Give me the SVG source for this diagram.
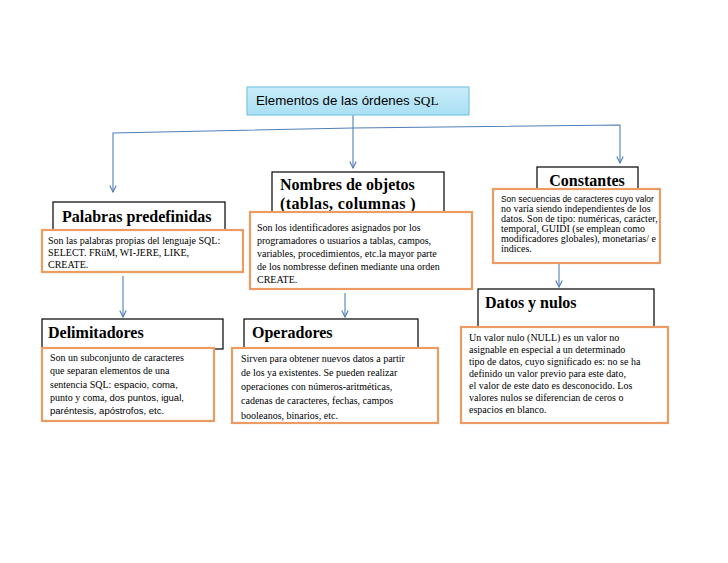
<svg xmlns="http://www.w3.org/2000/svg" width="728" height="563" viewBox="0 0 728 563">
<defs>
<linearGradient id="tg" x1="0" y1="0" x2="0" y2="1">
<stop offset="0" stop-color="#c9ecf9"/>
<stop offset="1" stop-color="#a9e0f4"/>
</linearGradient>
<marker id="ah" viewBox="0 0 10 10" refX="9" refY="5" markerWidth="8" markerHeight="8" markerUnits="userSpaceOnUse" orient="auto">
<path d="M1,1 L9,5 L1,9" fill="none" stroke="#4f7fb8" stroke-width="1.4"/>
</marker>
</defs>
<style>
.bg{fill:#ffffff}
.conn{fill:none;stroke:#4f7fb8;stroke-width:1.1;marker-end:url(#ah)}
.head{fill:#ffffff;stroke:#000000;stroke-width:1.2}
.desc{fill:#ffffff;stroke:#ec9c63;stroke-width:2.2}
.ht{font-family:"Liberation Serif","Times New Roman",serif;font-weight:bold;font-size:16px;fill:#000}
.bt{font-family:"Liberation Serif","Times New Roman",serif;font-size:10px;fill:#000}
.sans{font-family:"Liberation Sans",Arial,sans-serif}
.serif{font-family:"Liberation Serif","Times New Roman",serif}
</style>
<rect class="bg" x="0" y="0" width="728" height="563"/>

<g id="connectors">
<path class="conn" d="M353,115 V168"/>
<path class="conn" d="M353,128 L113,133 V192"/>
<path class="conn" d="M353,128 L620,125 V163"/>
<path class="conn" d="M123,276 V317"/>
<path class="conn" d="M345,293 V317"/>
<path class="conn" d="M559,264 V287"/>
</g>

<g id="title">
<rect x="247" y="87" width="222" height="28" fill="url(#tg)" stroke="#7cc6e2" stroke-width="1.2"/>
<text x="256" y="105" font-size="13.3px" fill="#000"><tspan class="sans">Elementos de las órdenes </tspan><tspan class="serif">SQL</tspan></text>
</g>

<g id="palabras">
<rect class="head" x="53" y="202" width="172" height="34"/>
<text class="ht" x="62" y="222">Palabras predefinidas</text>
<rect class="desc" x="42" y="230" width="201" height="42"/>
<text class="bt" font-size="9.8px"><tspan x="48" y="244">Son las palabras propias del lenguaje SQL:</tspan><tspan x="48" y="256">SELECT. FRüM,  WI-JERE, LIKE,</tspan><tspan x="48" y="268">CREATE.</tspan></text>
</g>

<g id="nombres">
<rect class="head" x="272" y="172" width="172" height="44"/>
<text class="ht" x="280" y="190" font-size="14.5px">Nombres de objetos</text>
<text class="ht" x="280" y="209" letter-spacing="0.4">(tablas, columnas )</text>
<rect class="desc" x="250" y="212" width="222" height="77"/>
<text class="bt" font-size="10.3px"><tspan x="257" y="231">Son los identificadores asignados por los</tspan><tspan x="257" y="244">programadores o usuarios a tablas, campos,</tspan><tspan x="257" y="257">variables, procedimientos, etc.la mayor parte</tspan><tspan x="257" y="270">de los nombresse definen mediante una orden</tspan><tspan x="257" y="283">CREATE.</tspan></text>
</g>

<g id="constantes">
<rect class="head" x="537" y="167" width="101" height="26"/>
<text class="ht" x="587" y="186" text-anchor="middle">Constantes</text>
<rect class="desc" x="493" y="189" width="167" height="74"/>
<text class="bt" font-size="9.2px"><tspan x="501" y="202" class="sans" font-size="8.4px">Son secuencias de caracteres cuyo valor</tspan><tspan x="501" y="212">no varía siendo independientes de los</tspan><tspan x="501" y="222">datos. Son de tipo: numéricas, carácter,</tspan><tspan x="501" y="232">temporal, GUIDI (se emplean como</tspan><tspan x="501" y="242">modificadores globales), monetarias/ e</tspan><tspan x="501" y="252">índices.</tspan></text>
</g>

<g id="delimitadores">
<rect class="head" x="42" y="319" width="181" height="30"/>
<text class="ht" x="48" y="338">Delimitadores</text>
<rect class="desc" x="42" y="348" width="172" height="73"/>
<text class="bt" font-size="10.3px"><tspan x="50" y="361">Son un subconjunto de caracteres</tspan><tspan x="50" y="374">que separan elementos de una</tspan><tspan x="50" y="388">sentencia SQL: </tspan><tspan class="sans" font-size="9.5px">espacio, coma,</tspan><tspan x="50" y="401">punto y coma, </tspan><tspan class="sans" font-size="9.5px">dos puntos, igual,</tspan><tspan x="50" y="414" class="sans" font-size="9.5px">paréntesis, apóstrofos, etc.</tspan></text>
</g>

<g id="operadores">
<rect class="head" x="244" y="319" width="174" height="30"/>
<text class="ht" x="252" y="338">Operadores</text>
<rect class="desc" x="232" y="348" width="206" height="75"/>
<text class="bt" font-size="10.2px"><tspan x="241" y="362">Sirven para obtener nuevos datos a partir</tspan><tspan x="241" y="376">de los ya existentes. Se pueden realizar</tspan><tspan x="241" y="390">operaciones con números-aritméticas,</tspan><tspan x="241" y="404">cadenas de caracteres, fechas, campos</tspan><tspan x="241" y="419">booleanos, binarios, etc.</tspan></text>
</g>

<g id="datos">
<rect class="head" x="478" y="289" width="176" height="40"/>
<text class="ht" x="485" y="308">Datos y nulos</text>
<rect class="desc" x="461" y="327" width="207" height="96"/>
<text class="bt" font-size="10.2px"><tspan x="469" y="341">Un valor nulo (NULL) es un valor no</tspan><tspan x="469" y="353">asignable en especial a un determinado</tspan><tspan x="469" y="365">tipo de datos, cuyo significado es: no se ha</tspan><tspan x="469" y="377">definido un valor previo para este dato,</tspan><tspan x="469" y="389">el valor de este dato es desconocido. Los</tspan><tspan x="469" y="401">valores nulos se diferencian de ceros o</tspan><tspan x="469" y="413">espacios en blanco.</tspan></text>
</g>
</svg>
